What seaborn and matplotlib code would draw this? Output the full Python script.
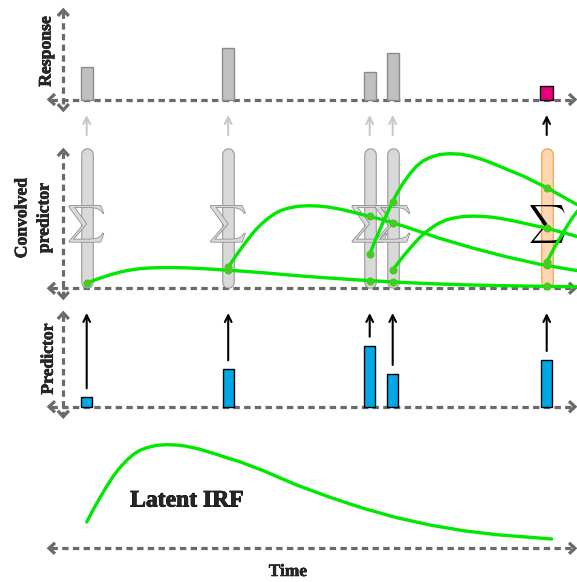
import numpy as np
import seaborn as sns
import matplotlib.pyplot as plt
from matplotlib import patheffects as pe

# values (time in units of 100 px, heights in panel units)
event_t = np.array([0.0, 1.415, 2.83, 3.06, 4.60])
predictor = np.array([0.94, 3.74, 6.10, 3.27, 4.67])
response = np.array([3.25, 5.15, 2.78, 4.62, 1.40])

irf_t = np.array([0.000, 0.066, 0.133, 0.200, 0.266, 0.333, 0.400, 0.466, 0.533, 0.600,
                  0.700, 0.800, 0.900, 1.000, 1.133, 1.266, 1.400, 1.533, 1.766, 2.100,
                  2.433, 2.766, 3.100, 3.433, 3.766, 4.100, 4.433, 4.650, 4.900])
irf_v = np.array([0.263, 0.388, 0.507, 0.619, 0.722, 0.808, 0.880, 0.938, 0.980, 1.006,
                  1.030, 1.036, 1.033, 1.020, 0.990, 0.950, 0.906, 0.865, 0.776, 0.633,
                  0.510, 0.400, 0.306, 0.233, 0.176, 0.136, 0.110, 0.093, 0.078])
gain = 2.13

W, H = 577, 582
X0, PX = 86.7, 100.0
GREEN = '#00e800'
DOT = '#44cc22'
GREY = '#6a6a6a'

sns.set_theme(style='white')
plt.rcParams['font.family'] = ['Liberation Serif', 'DejaVu Serif']
plt.rcParams['mathtext.fontset'] = 'cm'

fig = plt.figure(figsize=(W / 100, H / 100), dpi=100)

canvas = fig.add_axes([0, 0, 1, 1])
canvas.set_xlim(0, W)
canvas.set_ylim(H, 0)
canvas.axis('off')


def panel(base, scale):
    ax = fig.add_axes([0, 0, 1, 1])
    ax.set_xlim(-X0 / PX, (W - X0) / PX)
    ax.set_ylim(-(H - base) / scale, base / scale)
    ax.axis('off')
    ax.patch.set_alpha(0)
    return ax


def chevron(x, y, d):
    a, b = 6, 5.5
    if d == 'right':
        xs, ys = [x - a, x, x - a], [y - b, y, y + b]
    elif d == 'left':
        xs, ys = [x + a, x, x + a], [y - b, y, y + b]
    elif d == 'up':
        xs, ys = [x - b, x, x + b], [y + a, y, y + a]
    else:
        xs, ys = [x - b, x, x + b], [y - a, y, y - a]
    canvas.plot(xs, ys, color=GREY, lw=2.3, solid_joinstyle='miter', solid_capstyle='butt')


def dashed_axis(y, top=None, bottom=None, xl=49, xr=575, xv=63.3):
    canvas.plot([xl + 2, xr - 2], [y, y], color=GREY, lw=2.3, ls=(0, (2.0, 1.35)))
    chevron(xr, y, 'right')
    chevron(xl, y, 'left')
    if top is not None:
        canvas.plot([xv, xv], [top + 2, bottom - 2], color=GREY, lw=2.3, ls=(0, (2.0, 1.35)))
        chevron(xv, top, 'up')
        chevron(xv, bottom, 'down')


dashed_axis(99.5, 10, 110)
dashed_axis(288.3, 150, 298)
dashed_axis(406.7, 313, 416.7)
dashed_axis(548.3)


def label(x, y, s, size, rot=90, stroke=0.4, **kw):
    canvas.text(x, y, s, fontweight='bold', ha='center', va='center', rotation=rot,
                fontsize=size, path_effects=[pe.withStroke(linewidth=stroke, foreground='black')],
                **kw)


label(46, 51.5, 'Response', 12.7)
label(33, 218, 'Convolved\npredictor', 12.7, linespacing=1.4)
label(48.3, 359, 'Predictor', 12.7)
label(288, 572, 'Time', 12.5, rot=0)
label(187, 501, 'Latent IRF', 17, rot=0, stroke=0.6)

# response panel
ax_r = panel(99.5, 10)
ax_r.bar(event_t[:4], response[:4], width=0.123, color='#c0c0c0', edgecolor='#8c8c8c', lw=1)
ax_r.bar(event_t[4:], response[4:], width=0.125, color='#e6007e', edgecolor='black', lw=1)
for i, t in enumerate(event_t):
    c = 'black' if i == len(event_t) - 1 else '#c8c8c8'
    ax_r.annotate('', xy=(t, -1.55), xytext=(t, -3.55),
                  arrowprops=dict(arrowstyle='->', color=c, lw=1.5, mutation_scale=12,
                                  shrinkA=0, shrinkB=0))

# convolved predictor panel
ax_c = panel(288.3, 10)
for i, t in enumerate(event_t):
    last = i == len(event_t) - 1
    edge, fill = ('#ff8c1a', '#fdd6b2') if last else ('#8c8c8c', '#d9d9d9')
    ax_c.plot([t, t], [0.62, 13.48], color=edge, lw=9.0, solid_capstyle='round', zorder=1)
    ax_c.plot([t, t], [0.62, 13.48], color=fill, lw=7.6, solid_capstyle='round', zorder=1.1)
    if last:
        ax_c.text(t, 6.43, r'$\sum$', fontsize=18.5, color='black', ha='center', va='center',
                  zorder=2)
    else:
        ax_c.text(t, 6.43, r'$\sum$', fontsize=18.5, color=fill, ha='center', va='center',
                  zorder=2, path_effects=[pe.Stroke(linewidth=1.1, foreground='#8a8a8a'),
                                          pe.Normal()])

for j, t in enumerate(event_t):
    sns.lineplot(x=t + irf_t, y=gain * predictor[j] * irf_v, color=GREEN, lw=2.4,
                 sort=False, estimator=None, legend=False, ax=ax_c, zorder=3)

dots_x, dots_y = [], []
for i, ti in enumerate(event_t):
    for j in range(i + 1):
        dots_x.append(ti)
        dots_y.append(gain * predictor[j] * np.interp(ti - event_t[j], irf_t, irf_v))
sns.scatterplot(x=dots_x, y=dots_y, color=DOT, s=34, linewidth=0, ax=ax_c, zorder=4)

# predictor panel
ax_p = panel(406.7, 10)
ax_p.bar(event_t, predictor, width=0.112, color='#00a8e6', edgecolor='black', lw=1)
for t, v in zip(event_t, predictor):
    ax_p.annotate('', xy=(t, 9.37), xytext=(t, v + 0.9),
                  arrowprops=dict(arrowstyle='->', color='black', lw=1.5, mutation_scale=12,
                                  shrinkA=0, shrinkB=0))

# latent IRF panel
ax_i = panel(548.3, 100)
sns.lineplot(x=irf_t[:-1], y=irf_v[:-1], color=GREEN, lw=2.4, sort=False, estimator=None,
             legend=False, ax=ax_i)

fig.savefig('out.png', dpi=100)
